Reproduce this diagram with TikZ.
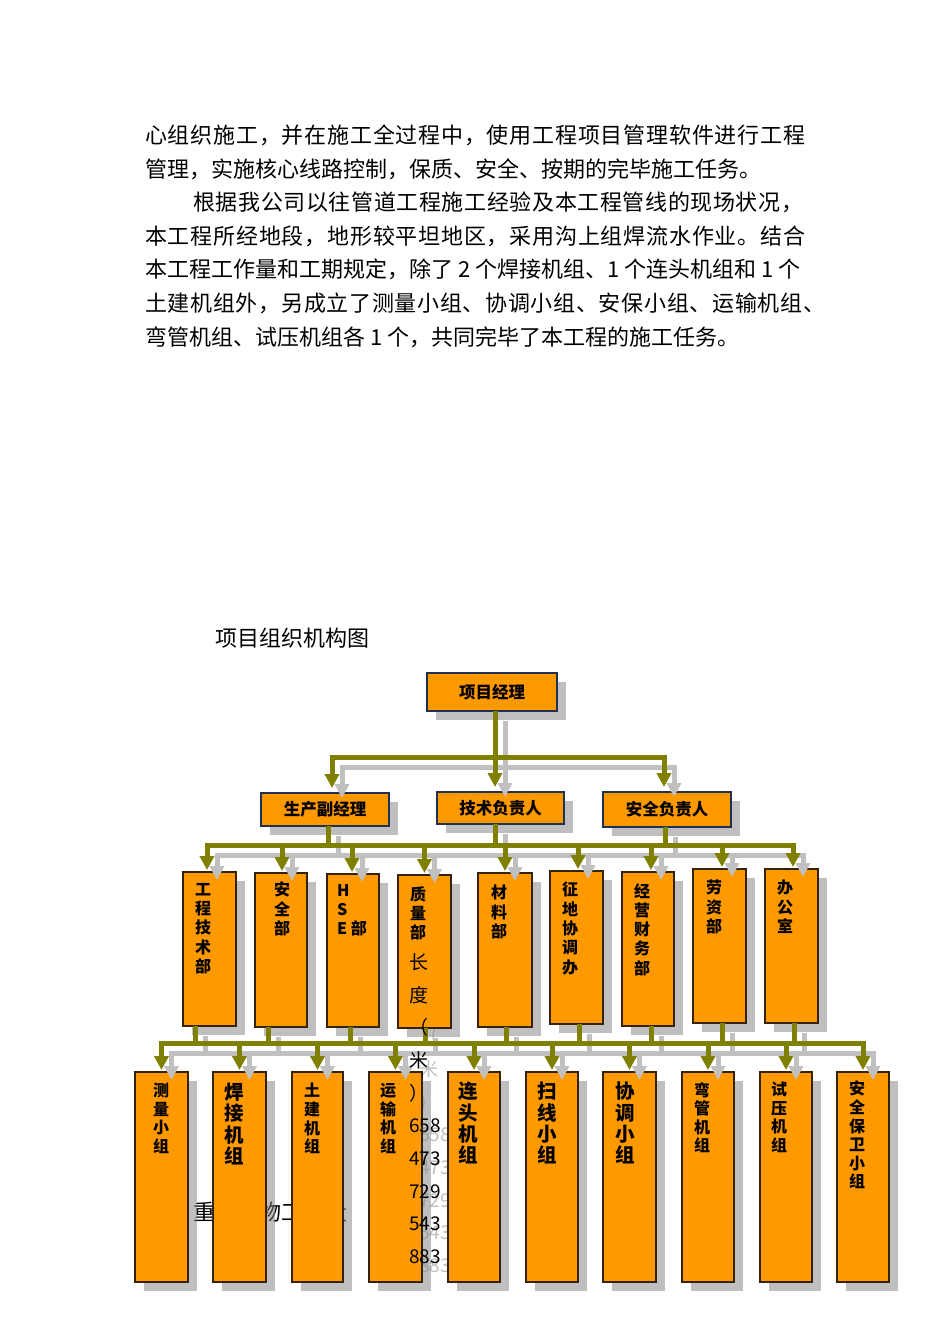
\documentclass[tikz,border=0pt]{standalone}
\usepackage{fontspec}
\setmainfont{Noto Sans CJK SC}
\usetikzlibrary{arrows.meta,shadows}
\pgfdeclarelayer{bg}
\pgfdeclarelayer{fg}
\pgfsetlayers{bg,main,fg}
\definecolor{olivec}{RGB}{128,128,0}
\definecolor{orangec}{RGB}{255,153,0}
\definecolor{shadowc}{RGB}{192,192,192}
\definecolor{edgeA}{RGB}{30,50,80}
\definecolor{edgeB}{RGB}{50,35,10}
\makeatletter
\newcommand\spreadtext[2]{\makebox[#1][s]{\@tfor\sp@c:=#2\do{\sp@c\hskip 0pt plus 1pt}\unskip}}
\makeatother
\newcommand\bx[7]{\node[#6, minimum width={(#4)-(#2)}, minimum height={(#5)-(#3)}] (#1) at ({((#2)+(#4))/2},{((#3)+(#5))/2}) {#7};}
\newcommand\orgconn{%
  % level 1
  \draw[ca] ([xshift=3pt]pm.south) -- ([xshift=3pt]pm.south |- bus1) -| ([xshift=7pt,yshift=5pt]d1.north);
  \draw[ca] ([xshift=3pt]pm.south) -- ([xshift=-5.5pt,yshift=5pt]d2.north);
  \draw[ca] ([xshift=3pt]pm.south) -- ([xshift=3pt]pm.south |- bus1) -| ([xshift=-3pt,yshift=5pt]d3.north);
  % level 2 -> 3
  \draw[cl] ([xshift=3.5pt]d1.south) -- ([xshift=3.5pt]d1.south |- bus2);
  \draw[cl] ([xshift=-5.5pt]d2.south) -- ([xshift=-5.5pt]d2.south |- bus2);
  \draw[cl] ([xshift=-2pt]d3.south) -- ([xshift=-2pt]d3.south |- bus2);
  \draw[ca] ([xshift=-5.5pt]d2.south |- bus2) -| ([xshift=-2.5pt,yshift=2pt]e1.north);
  \draw[ca] ([xshift=-5.5pt]d2.south |- bus2) -| ([xshift=1pt,yshift=2pt]e2.north);
  \draw[ca] ([xshift=-5.5pt]d2.south |- bus2) -| ([xshift=-1pt,yshift=2pt]e3.north);
  \draw[ca] ([xshift=-5.5pt]d2.south |- bus2) -| ([yshift=2pt]e4.north);
  \draw[ca] ([xshift=-5.5pt]d2.south |- bus2) -| ([yshift=2pt]e5.north);
  \draw[ca] ([xshift=-5.5pt]d2.south |- bus2) -| ([xshift=1.5pt,yshift=2pt]e6.north);
  \draw[ca] ([xshift=-5.5pt]d2.south |- bus2) -| ([xshift=3pt,yshift=2pt]e7.north);
  \draw[ca] ([xshift=-5.5pt]d2.south |- bus2) -| ([xshift=2.5pt,yshift=2pt]e8.north);
  \draw[ca] ([xshift=-5.5pt]d2.south |- bus2) -| ([xshift=1.5pt,yshift=2pt]e9.north);
  % level 3 -> 4
  \draw[cl] ([xshift=-14.5pt]e1.south) -- ([xshift=-14.5pt]e1.south |- bus3);
  \draw[cl] ([xshift=-13pt]e2.south) -- ([xshift=-13pt]e2.south |- bus3);
  \draw[cl] ([xshift=-3pt]e3.south) -- ([xshift=-3pt]e3.south |- bus3);
  \draw[cl] ([xshift=0.5pt]e4.south) -- ([xshift=0.5pt]e4.south |- bus3);
  \draw[cl] ([xshift=1pt]e5.south) -- ([xshift=1pt]e5.south |- bus3);
  \draw[cl] ([xshift=2.5pt]e6.south) -- ([xshift=2.5pt]e6.south |- bus3);
  \draw[cl] ([xshift=3pt]e7.south) -- ([xshift=3pt]e7.south |- bus3);
  \draw[cl] ([xshift=2.5pt]e8.south) -- ([xshift=2.5pt]e8.south |- bus3);
  \draw[cl] ([xshift=2.5pt]e9.south) -- ([xshift=2.5pt]e9.south |- bus3);
  \foreach \f in {f1,f2,f3,f4,f5,f6,f7,f8,f9,f10}{%
    \draw[ca] ([xshift=1pt]e5.south |- bus3) -| ([yshift=2pt]\f.north);}
}
\begin{document}
\begin{tikzpicture}[x=1pt,y=-1pt,
  box/.style={rectangle, fill=orangec, inner sep=0pt, outer sep=0pt,
    drop shadow={shadow xshift=9pt,shadow yshift=-9pt,fill=black!50,opacity=0.5}},
  topbox/.style={box, draw=edgeA, line width=1.5pt, font=\bfseries\fontsize{16.5}{18}\selectfont},
  subbox/.style={box, draw=edgeB, line width=1.3pt},
  vt/.style={anchor=north, align=center, inner sep=0pt, font=\bfseries\fontsize{16}{19.3}\selectfont},
  vts/.style={anchor=north, align=center, inner sep=0pt, font=\bfseries\fontsize{16}{18.6}\selectfont},
  vtl/.style={anchor=north, align=center, inner sep=0pt, font=\bfseries\fontsize{19.5}{21.3}\selectfont},
  body/.style={anchor=west, inner sep=0pt, font=\fontsize{22}{26}\selectfont},
  colt/.style={anchor=west, inner sep=0pt, font=\fontsize{19}{22}\selectfont},
  cl/.style={draw=olivec, line width=5pt},
  ca/.style={cl, -{Triangle[width=14pt,length=14pt]}}]
\useasboundingbox (0,0) rectangle (950,1344);

\coordinate (bus1) at (0,757);
\coordinate (bus2) at (0,845);
\coordinate (bus3) at (0,1043);

\begin{pgfonlayer}{bg}
\fill[white] (0,0) rectangle (950,1344);
\node[body] (stray) at (193,1212) {重要实物工程量};
\foreach \t/\y [count=\i] in {长/962,度/995,（/1027,米/1060,）/1093,658/1126,473/1159,729/1192,543/1224,883/1257}{
  \node[colt, text=shadowc] (g\i) at (419,{\y+9}) {\t};}
\end{pgfonlayer}

% body text
\node[body] (p1) at (145,135) {\spreadtext{660pt}{心组织施工，并在施工全过程中，使用工程项目管理软件进行工程}};
\node[body] (p2) at (145,169) {管理，实施核心线路控制，保质、安全、按期的完毕施工任务。};
\node[body] (p3) at (193,202) {\spreadtext{610pt}{根据我公司以往管道工程施工经验及本工程管线的现场状况，}};
\node[body] (p4) at (145,236) {\spreadtext{660pt}{本工程所经地段，地形较平坦地区，采用沟上组焊流水作业。结合}};
\node[body] (p5) at (145,269) {本工程工作量和工期规定，除了 2 个焊接机组、1 个连头机组和 1 个};
\node[body] (p6) at (145,303) {\spreadtext{680pt}{土建机组外，另成立了测量小组、协调小组、安保小组、运输机组、}};
\node[body] (p7) at (145,337) {弯管机组、试压机组各 1 个，共同完毕了本工程的施工任务。};
\node[body] (title) at (215,638) {项目组织机构图};

% boxes
\bx{pm}{427}{673}{557}{711}{topbox}{项目经理}
\bx{d1}{261}{793}{389}{826}{topbox}{生产副经理}
\bx{d2}{437}{792}{564}{824}{topbox}{技术负责人}
\bx{d3}{603}{792}{731}{827}{topbox}{安全负责人}

\bx{e1}{183}{872}{236}{1026}{subbox}{}
\bx{e2}{255}{873}{307}{1027}{subbox}{}
\bx{e3}{327}{874}{379}{1027}{subbox}{}
\bx{e4}{398}{875}{451}{1028}{subbox}{}
\bx{e5}{478}{873}{532}{1027}{subbox}{}
\bx{e6}{550}{871}{603}{1024}{subbox}{}
\bx{e7}{622}{872}{674}{1026}{subbox}{}
\bx{e8}{693}{869}{746}{1023}{subbox}{}
\bx{e9}{765}{869}{818}{1023}{subbox}{}

\bx{f1}{135}{1072}{188}{1282}{subbox}{}
\bx{f2}{213}{1072}{266}{1282}{subbox}{}
\bx{f3}{292}{1072}{343}{1282}{subbox}{}
\bx{f4}{369}{1072}{422}{1282}{subbox}{}
\bx{f5}{448}{1072}{500}{1282}{subbox}{}
\bx{f6}{526}{1072}{578}{1282}{subbox}{}
\bx{f7}{603}{1072}{656}{1282}{subbox}{}
\bx{f8}{682}{1072}{734}{1282}{subbox}{}
\bx{f9}{760}{1072}{812}{1282}{subbox}{}
\bx{f10}{837}{1072}{889}{1282}{subbox}{}

% level 3 labels
\node[vt] (te1) at (203,883) {工\\程\\技\\术\\部};
\node[vt] (te2) at (282,882) {安\\全\\部};
\node[vt, anchor=north west, align=left] (te3) at (337,884) {H\\S\\E 部};
\node[vt] (te4) at (418,886) {质\\量\\部};
\node[vt] (te5) at (499,885) {材\\料\\部};
\node[vt] (te6) at (570,882) {征\\地\\协\\调\\办};
\node[vt] (te7) at (642,883) {经\\营\\财\\务\\部};
\node[vt] (te8) at (714,880) {劳\\资\\部};
\node[vt] (te9) at (785,880) {办\\公\\室};

% level 4 labels
\node[vts] (tf1) at (161,1083) {测\\量\\小\\组};
\node[vtl] (tf2) at (234,1083) {焊\\接\\机\\组};
\node[vts] (tf3) at (312,1083) {土\\建\\机\\组};
\node[vts] (tf4) at (388,1083) {运\\输\\机\\组};
\node[vtl] (tf5) at (468,1082) {连\\头\\机\\组};
\node[vtl] (tf6) at (547,1082) {扫\\线\\小\\组};
\node[vtl] (tf7) at (625,1082) {协\\调\\小\\组};
\node[vts] (tf8) at (702,1082) {弯\\管\\机\\组};
\node[vts] (tf9) at (779,1082) {试\\压\\机\\组};
\node[vts] (tf10) at (857,1081) {安\\全\\保\\卫\\小\\组};

\begin{pgfonlayer}{fg}
\begin{scope}[transform canvas={shift={(10pt,-10pt)}}, cl/.style={draw=shadowc, line width=5pt}]
\orgconn
\end{scope}
\orgconn
\foreach \t/\y [count=\i] in {长/962,度/995,（/1027,米/1060,）/1093,658/1126,473/1159,729/1192,543/1224,883/1257}{
  \node[colt] (c\i) at (409,\y) {\t};}
\end{pgfonlayer}
\end{tikzpicture}
\end{document}
